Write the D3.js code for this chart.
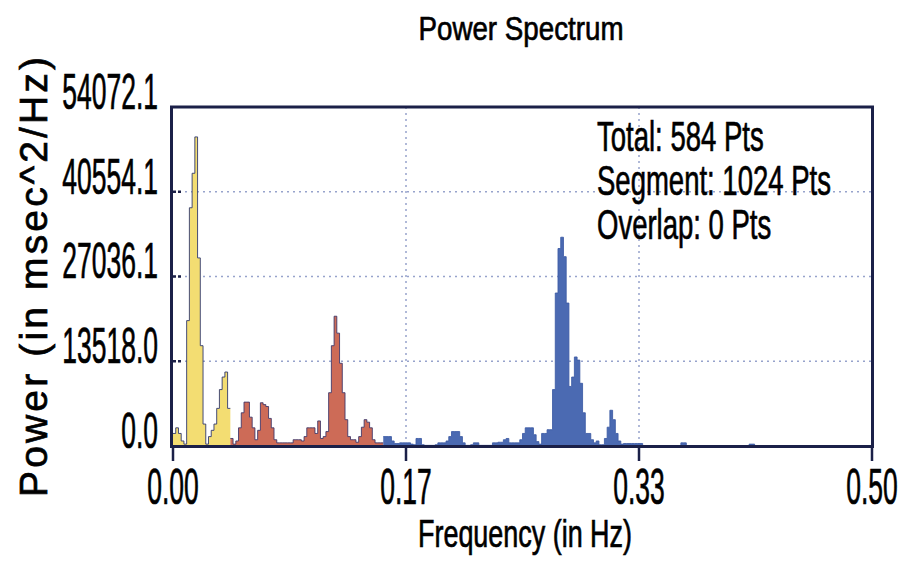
<!DOCTYPE html>
<html>
<head>
<meta charset="utf-8">
<script src="https://cdn.jsdelivr.net/npm/d3@7"></script>
<style>
  body { margin: 0; background: #fff; }
  text { font-family: "Liberation Sans", Arial, sans-serif; fill: #000; stroke: #000; stroke-width: 0.7px; }
</style>
</head>
<body>
<div id="chart"></div>
<script>
// spectrum, one value per 1/512 Hz bin (msec^2/Hz)
const binWidth = 1 / 512;
const power = [
  2000, 2900, 2000, 800, 300, 20000, 38000, 43500, 49300, 30000, 16000, 3500, 300, 1500, 2500, 3500,
  6000, 9000, 11000, 11800, 6000, 1200, 300, 800, 2900, 5300, 7000, 7000, 4600, 2900, 1000, 2500,
  6900, 6600, 6300, 4400, 2900, 1000, 500, 500, 500, 500, 500, 500, 1000, 1000, 1000, 800,
  1500, 2900, 2900, 2900, 2000, 4000, 1200, 1500, 2300, 8500, 16000, 20700, 18000, 13200, 8500, 4200,
  1500, 1000, 1000, 600, 1500, 3000, 4200, 3800, 2900, 1000, 500, 500, 500, 1500, 1500, 1500,
  800, 400, 400, 500, 500, 500, 500, 300, 200, 1200, 1200, 200, 100, 100, 100, 100,
  200, 500, 500, 500, 800, 1500, 2300, 2300, 2300, 1500, 500, 100, 100, 200, 500, 500,
  100, 100, 100, 100, 100, 500, 500, 600, 600, 1000, 1200, 500, 500, 500, 500, 1000,
  2000, 2900, 2900, 2900, 1800, 700, 300, 2000, 2000, 2600, 2600, 9000, 24400, 31500, 33300, 30200,
  22800, 9500, 11000, 14200, 13700, 10000, 5300, 2000, 2000, 1000, 500, 800, 200, 200, 1200, 3000,
  5700, 4200, 2000, 800, 300, 400, 400, 400, 400, 400, 400, 400, 0, 0, 0, 0,
  0, 0, 0, 0, 0, 0, 0, 0, 0, 0, 500, 500, 0, 0, 0, 0,
  0, 0, 0, 0, 0, 0, 0, 0, 0, 0, 0, 0, 0, 0, 0, 0,
  0, 0, 0, 300, 300, 0, 0, 0, 0, 0, 0, 0, 0, 0, 0, 0,
  0, 0, 0, 0, 0, 0, 0, 0, 0, 0, 0, 0, 0, 0, 0, 0,
  0, 0, 0, 0, 0, 0, 0, 0, 0, 0, 0, 0, 0, 0, 0, 0
];
const bandNames = ["VLF", "LF", "HF"];
const bandEdges = [0, 0.04, 0.15, 0.5];
const yTicks = [0, 13518.0, 27036.1, 40554.1, 54072.1];
const xTicks = [0, 1 / 6, 1 / 3, 0.5];
const infoLines = ["Total: 584 Pts", "Segment: 1024 Pts", "Overlap: 0 Pts"];

const bandColour = { VLF: "#f3dd72", LF: "#cd6b57", HF: "#4b6ab2" };
const bandEdgeColour = { VLF: "#27306a", LF: "#3a3266", HF: "#3c5aa4" };
const ink = "#1b2048";

const width = 904;
const height = 565;

const svg = d3.select("#chart")
    .append("svg")
    .attr("width", width)
    .attr("height", height)
    .attr("viewBox", `0 0 ${width} ${height}`);

svg.append("rect").attr("width", width).attr("height", height).attr("fill", "#fff");

const x = d3.scaleLinear().domain([0, 0.5]).range([173, 872]);
const y = d3.scaleLinear().domain([0, 54072.1]).range([446, 107]);

// grid
svg.append("g").selectAll("line")
   .data(yTicks.slice(1, -1))
   .enter().append("line")
   .attr("x1", x(0)).attr("x2", x(0.5))
   .attr("y1", d => y(d)).attr("y2", d => y(d))
   .attr("stroke", "#97a3cc").attr("stroke-width", 1.5)
   .attr("stroke-dasharray", "2,4");

svg.append("g").selectAll("line")
   .data(xTicks.slice(1, -1))
   .enter().append("line")
   .attr("x1", d => x(d)).attr("x2", d => x(d))
   .attr("y1", y(54072.1)).attr("y2", y(0))
   .attr("stroke", "#97a3cc").attr("stroke-width", 1.5)
   .attr("stroke-dasharray", "2,4");

// split the bins into bands, each band path closes on the next band's first bin
function bandOf(f){
  for(let b = 0; b < bandNames.length; ++b){
    if(f < bandEdges[b + 1]) return bandNames[b];
  }
  return bandNames[bandNames.length - 1];
}

const bins = power.map((p, i) => ({ f: i * binWidth, p: p, band: bandOf(i * binWidth) }));
const bands = bandNames.map(name => {
  const pts = bins.filter(d => d.band === name);
  const last = pts[pts.length - 1];
  pts.push({ f: last.f + binWidth, p: last.p, band: name });
  return { name: name, pts: pts };
});

const area = d3.area()
    .curve(d3.curveStepAfter)
    .x(d => x(d.f))
    .y0(y(0))
    .y1(d => y(d.p));

const line = d3.line()
    .curve(d3.curveStepAfter)
    .x(d => x(d.f))
    .y(d => y(d.p));

const spec = svg.append("g");
spec.selectAll("path.area")
    .data(bands)
    .enter().append("path")
    .attr("class", "area")
    .attr("d", d => area(d.pts))
    .attr("fill", d => bandColour[d.name]);

spec.selectAll("path.edge")
    .data(bands)
    .enter().append("path")
    .attr("class", "edge")
    .attr("d", d => line(d.pts))
    .attr("fill", "none")
    .attr("stroke", d => bandEdgeColour[d.name])
    .attr("stroke-width", 1)
    .attr("stroke-opacity", 0.85);

// frame
svg.append("rect")
   .attr("x", 171.5).attr("y", 107)
   .attr("width", 701).attr("height", 339.5)
   .attr("fill", "none")
   .attr("stroke", ink)
   .attr("stroke-width", 3);

// inner y ticks
svg.append("g").selectAll("line")
   .data(yTicks.slice(1, -1))
   .enter().append("line")
   .attr("x1", 173).attr("x2", 183)
   .attr("y1", d => y(d)).attr("y2", d => y(d))
   .attr("stroke", ink).attr("stroke-width", 2.5)
   .attr("stroke-dasharray", "3,2");

// x ticks
svg.append("g").selectAll("line")
   .data(xTicks)
   .enter().append("line")
   .attr("x1", d => x(d)).attr("x2", d => x(d))
   .attr("y1", y(0)).attr("y2", y(0) + 15)
   .attr("stroke", ink).attr("stroke-width", 2.5);

const fmtY = d3.format(".1f");
const fmtX = d3.format(".2f");

svg.append("g").selectAll("text")
   .data(yTicks)
   .enter().append("text")
   .attr("transform", d => `translate(158,${y(d) + 2}) scale(0.53,1)`)
   .attr("text-anchor", "end")
   .attr("font-size", 50)
   .text(d => fmtY(d));

svg.append("g").selectAll("text")
   .data(xTicks)
   .enter().append("text")
   .attr("transform", d => `translate(${x(d)},504) scale(0.53,1)`)
   .attr("text-anchor", "middle")
   .attr("font-size", 50)
   .text(d => fmtX(d));

svg.append("g").selectAll("text")
   .data(infoLines)
   .enter().append("text")
   .attr("transform", (d, i) => `translate(597,${151 + i * 44}) scale(0.64,1)`)
   .attr("font-size", 43)
   .text(d => d);

// titles
svg.append("text")
   .attr("x", 521).attr("y", 40)
   .attr("text-anchor", "middle")
   .attr("font-size", 34)
   .attr("textLength", 205)
   .attr("lengthAdjust", "spacingAndGlyphs")
   .text("Power Spectrum");

svg.append("text")
   .attr("x", 525).attr("y", 547)
   .attr("text-anchor", "middle")
   .attr("font-size", 38)
   .attr("textLength", 214)
   .attr("lengthAdjust", "spacingAndGlyphs")
   .text("Frequency (in Hz)");

svg.append("text")
   .attr("transform", "translate(47,277) rotate(-90)")
   .attr("text-anchor", "middle")
   .attr("font-size", 39)
   .attr("textLength", 440)
   .attr("lengthAdjust", "spacing")
   .text("Power (in msec^2/Hz)");
</script>
</body>
</html>
